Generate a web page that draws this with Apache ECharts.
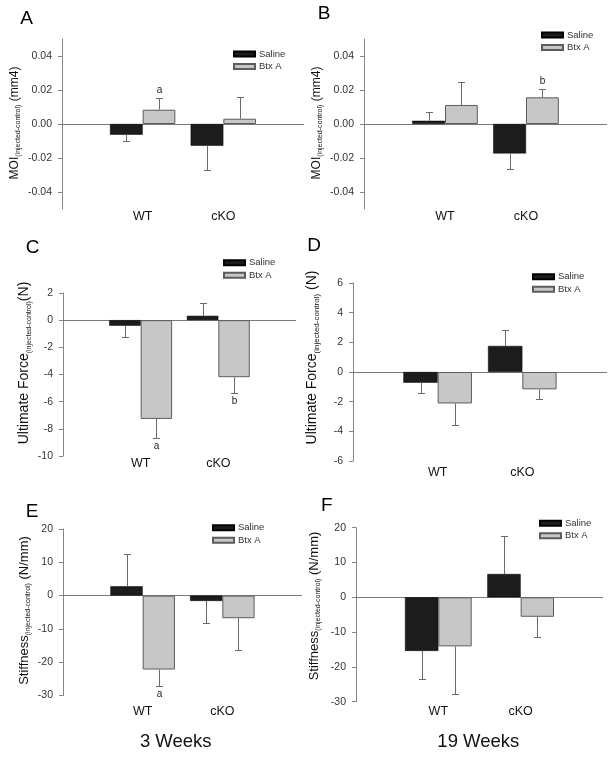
<!DOCTYPE html>
<html>
<head>
<meta charset="utf-8">
<script src="https://cdn.jsdelivr.net/npm/echarts@6/dist/echarts.min.js"></script>
<style>
html,body{margin:0;padding:0;background:#fff;}
#chart{width:613px;height:757px;}
</style>
</head>
<body>
<div id="chart"></div>
<script>
// ---------------- data ----------------
const categories = ['', 'WT', 'cKO', ''];
const seriesNames = ['Saline', 'Btx A'];
const ageTitles = ['3 Weeks', '19 Weeks'];
const panelLetters = ['A', 'B', 'C', 'D', 'E', 'F'];

// A: MOI, 3 weeks
const moi3Saline = [-0.0063, -0.0128];
const moi3SalineSE = [0.0039, 0.0145];
const moi3Btx = [0.0084, 0.0031];
const moi3BtxSE = [0.0069, 0.0126];
const moi3BtxSig = ['a', ''];
// B: MOI, 19 weeks
const moi19Saline = [0.0019, -0.0173];
const moi19SalineSE = [0.0049, 0.0090];
const moi19Btx = [0.0112, 0.0157];
const moi19BtxSE = [0.0137, 0.0049];
const moi19BtxSig = ['', 'b'];
// C: Ultimate force, 3 weeks
const force3Saline = [-0.41, 0.32];
const force3SalineSE = [0.86, 0.92];
const force3Btx = [-7.27, -4.20];
const force3BtxSE = [1.39, 1.17];
const force3BtxSig = ['a', 'b'];
// D: Ultimate force, 19 weeks
const force19Saline = [-0.72, 1.76];
const force19SalineSE = [0.68, 1.06];
const force19Btx = [-2.12, -1.17];
const force19BtxSE = [1.42, 0.64];
const force19BtxSig = ['', ''];
// E: Stiffness, 3 weeks
const stiff3Saline = [2.8, -1.6];
const stiff3SalineSE = [9.7, 6.7];
const stiff3Btx = [-22.2, -6.8];
const stiff3BtxSE = [5.0, 9.4];
const stiff3BtxSig = ['a', ''];
// F: Stiffness, 19 weeks
const stiff19Saline = [-15.4, 6.7];
const stiff19SalineSE = [8.1, 10.8];
const stiff19Btx = [-14.1, -5.6];
const stiff19BtxSE = [13.7, 5.7];
const stiff19BtxSig = ['', ''];

// axis ranges / ticks
const moiTicks = [-0.04, -0.02, 0, 0.02, 0.04];
const moiRange = [-0.05, 0.05];
const forceRange3 = [-10, 2];
const forceRange19 = [-6, 6];
const stiffRange = [-30, 20];

// ---------------- layout / style ----------------
const FONT = 'Liberation Sans, Arial, sans-serif';
const NARROW = '"Liberation Sans Narrow", "Arial Narrow", Liberation Sans, sans-serif';
const BAR_FRAC = 0.405;
const AXIS_COLOR = '#858585';
const ERR_COLOR = '#6a6a6a';

const panels = [
  {sal: moi3Saline, salSE: moi3SalineSE, btx: moi3Btx, btxSE: moi3BtxSE, sig: moi3BtxSig,
   grid: {left: 62, top: 39, width: 242, height: 170}, range: moiRange, ticks: moiTicks, dec: 2,
   labelMargin: 8, legend: {left: 233, top: 48},
   name: ['MOI', '(injected-control)', ' (mm4)'], nameSize: [12, 7], namePos: [15, 123], letterPos: [26.7, 18.3]},
  {sal: moi19Saline, salSE: moi19SalineSE, btx: moi19Btx, btxSE: moi19BtxSE, sig: moi19BtxSig,
   grid: {left: 364, top: 39, width: 243, height: 170}, range: moiRange, ticks: moiTicks, dec: 2,
   labelMargin: 8, legend: {left: 541, top: 29},
   name: ['MOI', '(injected-control)', ' (mm4)'], nameSize: [12, 7], namePos: [316.7, 123], letterPos: [324, 14]},
  {sal: force3Saline, salSE: force3SalineSE, btx: force3Btx, btxSE: force3BtxSE, sig: force3BtxSig,
   grid: {left: 63, top: 293, width: 233, height: 163}, range: forceRange3, interval: 2, dec: 0,
   labelMargin: 7.5, legend: {left: 223, top: 256.7},
   name: ['Ultimate Force', '(injected-control)', '(N)'], nameSize: [14, 7], namePos: [24.5, 363], letterPos: [32.5, 247.5]},
  {sal: force19Saline, salSE: force19SalineSE, btx: force19Btx, btxSE: force19BtxSE, sig: force19BtxSig,
   grid: {left: 353, top: 283, width: 254, height: 178}, range: forceRange19, interval: 2, dec: 0,
   labelMargin: 12, legend: {left: 532, top: 270.7},
   name: ['Ultimate Force', '(injected-control)', ' (N)'], nameSize: [14, 8], namePos: [312.5, 357.5], letterPos: [314, 246]},
  {sal: stiff3Saline, salSE: stiff3SalineSE, btx: stiff3Btx, btxSE: stiff3BtxSE, sig: stiff3BtxSig,
   grid: {left: 63, top: 529, width: 239, height: 166.5}, range: stiffRange, interval: 10, dec: 0,
   labelMargin: 16.4, legend: {left: 212, top: 521.7},
   name: ['Stiffness', '(injected-control)', ' (N/mm)'], nameSize: [13, 7], namePos: [24.5, 610.5], letterPos: [32, 511.5]},
  {sal: stiff19Saline, salSE: stiff19SalineSE, btx: stiff19Btx, btxSE: stiff19BtxSE, sig: stiff19BtxSig,
   grid: {left: 356, top: 527.7, width: 247, height: 174}, range: stiffRange, interval: 10, dec: 0,
   labelMargin: 10, legend: {left: 539, top: 517.3},
   name: ['Stiffness', '(injected-control)', ' (N/mm)'], nameSize: [13, 7], namePos: [314.5, 606], letterPos: [326.7, 506]}
];

function errRender(side, letters) {
  return function (params, api) {
    const idx = api.value(0), v = api.value(1), se = api.value(2);
    if (isNaN(v)) return;
    const end = v >= 0 ? v + se : v - se;
    const p0 = api.coord([idx, v]);
    const p1 = api.coord([idx, end]);
    const band = api.coord([idx + 1, v])[0] - p0[0];
    const x = Math.round(p0[0] + side * band * BAR_FRAC / 2) + 0.5;
    const y1 = Math.round(p1[1]) + 0.5;
    const children = [
      {type: 'line', shape: {x1: x, y1: p0[1], x2: x, y2: y1}, style: {stroke: ERR_COLOR, lineWidth: 1}},
      {type: 'line', shape: {x1: x - 3.5, y1: y1, x2: x + 3.5, y2: y1}, style: {stroke: ERR_COLOR, lineWidth: 1}}
    ];
    const lt = letters && letters[params.dataIndex];
    if (lt) {
      children.push({type: 'text', style: {text: lt, x: x, y: y1 + (v >= 0 ? -8 : 8), align: 'center', verticalAlign: 'middle',
        fontSize: 10, fontFamily: NARROW, fill: '#222'}});
    }
    return {type: 'group', children: children};
  };
}

const grid = [], xAxis = [], yAxis = [], series = [], legend = [], graphic = [];

panels.forEach(function (p, i) {
  grid.push(Object.assign({}, p.grid));
  xAxis.push({
    gridIndex: i, type: 'category', data: categories, boundaryGap: false,
    axisLine: {show: false}, axisTick: {show: false}, splitLine: {show: false},
    axisLabel: {interval: 0, margin: p.labelMargin, verticalAlign: 'middle', fontSize: 12.5, color: '#111', fontFamily: FONT}
  });
  const y = {
    gridIndex: i, type: 'value', min: p.range[0], max: p.range[1],
    axisLine: {show: true, lineStyle: {color: AXIS_COLOR, width: 1}},
    axisTick: {show: true, length: 4, lineStyle: {color: AXIS_COLOR}},
    splitLine: {show: false},
    axisLabel: {margin: 10, fontSize: 10.5, color: '#333', fontFamily: NARROW,
      formatter: (function (d) { return function (v) { return (Math.abs(v) < 1e-9 ? 0 : v).toFixed(d); }; })(p.dec)}
  };
  if (p.ticks) {
    y.interval = 0.01;
    y.axisTick.customValues = p.ticks;
    y.axisLabel.customValues = p.ticks;
  } else {
    y.interval = p.interval;
  }
  yAxis.push(y);

  series.push({
    name: seriesNames[0], type: 'bar', xAxisIndex: i, yAxisIndex: i,
    data: [null].concat(p.sal).concat([null]),
    barWidth: (BAR_FRAC * 100) + '%', barGap: '0%',
    itemStyle: {color: '#1c1c1c', borderColor: '#000', borderWidth: 0.5},
    z: 2,
    markLine: {silent: true, symbol: ['none', 'none'], label: {show: false},
      lineStyle: {color: '#7a7a7a', width: 1, type: 'solid'}, data: [{yAxis: 0}], z: 1}
  });
  series.push({
    name: seriesNames[1], type: 'bar', xAxisIndex: i, yAxisIndex: i,
    data: [null].concat(p.btx).concat([null]),
    barWidth: (BAR_FRAC * 100) + '%', barGap: '0%',
    itemStyle: {color: '#c7c7c7', borderColor: '#5c5c5c', borderWidth: 1},
    z: 2
  });
  series.push({
    type: 'custom', xAxisIndex: i, yAxisIndex: i, z: 3, silent: true,
    renderItem: errRender(-1, null),
    encode: {x: 0, y: 1},
    data: p.sal.map(function (v, k) { return [k + 1, v, p.salSE[k]]; })
  });
  series.push({
    type: 'custom', xAxisIndex: i, yAxisIndex: i, z: 3, silent: true,
    renderItem: errRender(1, p.sig),
    encode: {x: 0, y: 1},
    data: p.btx.map(function (v, k) { return [k + 1, v, p.btxSE[k]]; })
  });

  legend.push({
    left: p.legend.left, top: p.legend.top, orient: 'vertical', icon: 'rect',
    itemWidth: 21, itemHeight: 5, itemGap: 0.5, padding: 0, selectedMode: false,
    data: seriesNames,
    textStyle: {fontSize: 9.5, lineHeight: 12, color: '#333', fontFamily: NARROW, padding: [0, 0, 0, -1]}
  });

  graphic.push({
    type: 'text', x: p.namePos[0], y: p.namePos[1], rotation: Math.PI / 2,
    style: {
      text: '{m|' + p.name[0] + '}{s|' + p.name[1] + '}{m|' + p.name[2] + '}',
      align: 'center', verticalAlign: 'middle', fill: '#111',
      rich: {
        m: {fontSize: p.nameSize[0], fontFamily: FONT, lineHeight: p.nameSize[0] + 2, verticalAlign: 'middle', fill: '#111'},
        s: {fontSize: p.nameSize[1], fontFamily: FONT, lineHeight: 8, verticalAlign: 'bottom', fill: '#111'}
      }
    }
  });
  graphic.push({
    type: 'text', x: p.letterPos[0], y: p.letterPos[1],
    style: {text: panelLetters[i], align: 'center', verticalAlign: 'middle', fontSize: 19, fontFamily: FONT, fill: '#000'}
  });
});

graphic.push({type: 'text', x: 175.7, y: 741.7,
  style: {text: ageTitles[0], align: 'center', verticalAlign: 'middle', fontSize: 18.5, fontFamily: FONT, fill: '#111'}});
graphic.push({type: 'text', x: 478.3, y: 741.7,
  style: {text: ageTitles[1], align: 'center', verticalAlign: 'middle', fontSize: 18.5, fontFamily: FONT, fill: '#111'}});

const chart = echarts.init(document.getElementById('chart'), null, {renderer: 'canvas'});
chart.setOption({
  animation: false,
  backgroundColor: '#fff',
  grid: grid, xAxis: xAxis, yAxis: yAxis, series: series, legend: legend, graphic: graphic
});
</script>
</body>
</html>
